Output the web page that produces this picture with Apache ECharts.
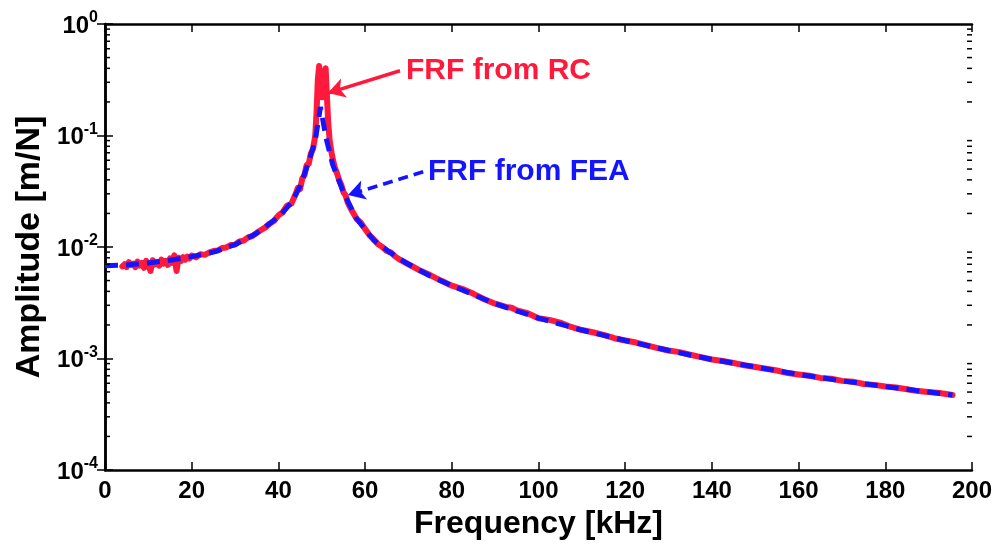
<!DOCTYPE html>
<html>
<head>
<meta charset="utf-8">
<script src="https://cdn.jsdelivr.net/npm/echarts@6/dist/echarts.min.js"></script>
<style>html,body{margin:0;padding:0;background:#fff}#c{width:1001px;height:548px}</style>
</head>
<body>
<div id="c"></div>
<script>
// FEA (dashed blue) series
const freqFEA = [0,5,10,15,20,25,30,35,40,43,45,47,48.5,49.7,51,52.5,55,58,62,66,70,75,80,90,100,110,120,130,140,150,160,170,180,190,195.5];
const ampFEA  = [6.8e-3,6.9e-3,7.2e-3,7.6e-3,8.2e-3,9.0e-3,1.05e-2,1.33e-2,1.85e-2,2.5e-2,3.5e-2,5.8e-2,0.09,0.18,0.095,0.055,0.031,0.018,0.0115,0.0088,0.0070,0.0055,0.0045,0.0031,0.0023,0.0018,0.00145,0.00118,0.00098,0.00084,0.00072,0.00063,0.00056,0.0005,0.00047];

// RC (solid red) series
const freqRC = [4,4.5,5,5.5,6,6.5,7,7.5,8,8.5,9,9.5,10,10.5,11,11.5,12,12.5,13,13.5,14,14.5,15,15.5,16,16.5,17,17.5,18,18.5,19,19.5,20,21,22,23,24,25,26,27,28,29,30,31,32,33,34,35,36,37,38,39,40,41,42,43,44,44.5,45,45.5,46,46.5,47,47.5,48,48.5,48.8,49.1,49.4,49.8,50.1,50.5,50.9,51.2,51.5,51.8,52.2,52.6,53,53.5,54,54.5,55,55.5,56,57,58,59,60,61,62,63,64,65,66,67,68,70,72.5,75,77.5,80,82.5,85,87.5,90,92.5,93.8,95,97.5,100,102.5,105,107.5,110,112.5,115,117.5,120,122.5,125,127.5,130,132.5,135,137.5,140,142.5,145,147.5,150,152.5,155,157.5,160,162.5,165,167.5,170,172.5,175,177.5,180,182.5,185,187.5,190,192.5,195.5];
const ampRC  = [6.7e-3,7.0e-3,6.6e-3,7.3e-3,6.9e-3,7.1e-3,6.6e-3,7.4e-3,6.8e-3,7.2e-3,6.5e-3,7.5e-3,6.9e-3,6.1e-3,7.6e-3,7.0e-3,7.3e-3,6.8e-3,7.7e-3,7.1e-3,7.5e-3,6.9e-3,7.9e-3,7.2e-3,8.4e-3,6.1e-3,8.0e-3,7.5e-3,8.1e-3,7.7e-3,8.2e-3,7.9e-3,8.4e-3,8.1e-3,8.6e-3,8.5e-3,8.9e-3,9.2e-3,9.3e-3,9.8e-3,9.9e-3,1.04e-2,1.05e-2,1.12e-2,1.14e-2,1.22e-2,1.25e-2,1.34e-2,1.42e-2,1.50e-2,1.62e-2,1.72e-2,1.92e-2,2.05e-2,2.35e-2,2.45e-2,3.0e-2,3.4e-2,3.3e-2,4.1e-2,4.4e-2,5.4e-2,5.6e-2,6.9e-2,7.6e-2,0.10,0.16,0.32,0.42,0.30,0.22,0.36,0.40,0.22,0.13,0.092,0.072,0.060,0.052,0.046,0.040,0.036,0.031,0.029,0.025,0.021,0.018,0.0165,0.0145,0.0128,0.0117,0.0106,0.0100,0.0092,0.0089,0.0082,0.0077,0.0070,0.0062,0.0056,0.0050,0.0045,0.0042,0.0038,0.0034,0.0031,0.0029,0.00285,0.0027,0.00255,0.0023,0.00222,0.0021,0.00192,0.0018,0.00172,0.00163,0.00152,0.00145,0.00139,0.00131,0.00124,0.00118,0.00114,0.00108,0.00103,0.00098,0.00095,0.00091,0.00087,0.00084,0.00081,0.00078,0.00074,0.00072,0.00070,0.00067,0.00066,0.00063,0.00062,0.00059,0.00058,0.00056,0.00055,0.00053,0.00051,0.0005,0.00049,0.00047];

// axis settings
const xMin = 0, xMax = 200, xStep = 20;
const yDecades = [-4,-3,-2,-1,0];
const minorMults = [2,3,4,5,6,7,8,9];

// annotation arrows (data coords: [kHz, amplitude])
const arrowRC  = [[68.05, 0.381], [51.4, 0.24]];
const arrowFEA = [[73.4, 0.0473], [56.05, 0.0292]];
const labelRC = 'FRF from RC';
const labelFEA = 'FRF from FEA';

const RED = '#ff1a3c';
const BLUE = '#1414ff';
const FONT = "'Liberation Sans', Arial, sans-serif";

// minor tick values on both the left (x=xMin) and right (x=xMax) frame edges
const minorTickVals = [];
yDecades.slice(0, -1).forEach(d => minorMults.forEach(m => {
  minorTickVals.push([xMin, m * Math.pow(10, d)]);
  minorTickVals.push([xMax, m * Math.pow(10, d)]);
}));

const zip = (a, b) => a.map((v, i) => [v, b[i]]);

const chart = echarts.init(document.getElementById('c'));
const axisLineStyle = { lineStyle: { color: '#000', width: 2.5 } };
const tickStyle = { inside: true, length: 8, lineStyle: { color: '#000', width: 1.5 } };
const opt = {
  animation: false,
  grid: { left: 105, right: 29, top: 24, bottom: 78 },
  xAxis: [{
    type: 'value', min: xMin, max: xMax, interval: xStep, position: 'bottom',
    axisLine: axisLineStyle, axisTick: tickStyle,
    axisLabel: { color: '#000', fontSize: 24, fontWeight: 'bold', fontFamily: FONT, margin: 9 },
    splitLine: { show: false },
    name: 'Frequency [kHz]', nameLocation: 'middle', nameGap: 37,
    nameTextStyle: { color: '#000', fontSize: 32, fontWeight: 'bold', fontFamily: FONT }
  }, {
    type: 'value', min: xMin, max: xMax, interval: xStep, position: 'top',
    axisLine: axisLineStyle, axisTick: tickStyle,
    axisLabel: { show: false }, splitLine: { show: false }
  }],
  yAxis: [{
    type: 'log', logBase: 10, min: 1e-4, max: 1, interval: 1, position: 'left',
    axisLine: axisLineStyle, axisTick: tickStyle,
    axisLabel: {
      color: '#000', fontFamily: FONT, margin: 7,
      formatter: v => '{b|10}{e|' + Math.round(Math.log10(v)) + '}',
      rich: {
        b: { fontSize: 24, fontWeight: 'bold', fontFamily: FONT, color: '#000', verticalAlign: 'bottom' },
        e: { fontSize: 16, fontWeight: 'bold', fontFamily: FONT, color: '#000', verticalAlign: 'bottom', padding: [0, 0, 12, 0] }
      }
    },
    splitLine: { show: false },
    name: 'Amplitude [m/N]', nameLocation: 'middle', nameGap: 58,
    nameTextStyle: { color: '#000', fontSize: 34, fontWeight: 'bold', fontFamily: FONT }
  }, {
    type: 'log', logBase: 10, min: 1e-4, max: 1, interval: 1, position: 'right',
    axisLine: axisLineStyle, axisTick: tickStyle,
    axisLabel: { show: false }, splitLine: { show: false }
  }],
  graphic: [
    { type: 'text', x: 406, y: 71, silent: true,
      style: { text: labelRC, fill: RED, font: 'bold 30px ' + FONT, verticalAlign: 'middle', align: 'left' } },
    { type: 'text', x: 428, y: 172, silent: true,
      style: { text: labelFEA, fill: BLUE, font: 'bold 30px ' + FONT, verticalAlign: 'middle', align: 'left' } }
  ],
  series: [
    {
      type: 'custom', xAxisIndex: 0, yAxisIndex: 0, silent: true, clip: false, z: 10,
      data: minorTickVals,
      renderItem: (params, api) => {
        const p = api.coord([api.value(0), api.value(1)]);
        const dir = api.value(0) === xMin ? 1 : -1;
        return { type: 'line',
          shape: { x1: p[0], y1: p[1], x2: p[0] + dir * 5, y2: p[1] },
          style: { stroke: '#000', lineWidth: 1.5 } };
      }
    },
    {
      name: 'RC', type: 'line', data: zip(freqRC, ampRC), showSymbol: false, symbol: 'none',
      lineStyle: { color: RED, width: 6, join: 'round', cap: 'round' },
      markLine: {
        silent: true, symbol: ['none', 'arrow'], symbolSize: [15, 17],
        label: { show: false },
        lineStyle: { color: RED, width: 3.5, type: 'solid' },
        data: [[{ coord: arrowRC[0] }, { coord: arrowRC[1] }]]
      }
    },
    {
      name: 'FEA', type: 'line', data: zip(freqFEA, ampFEA), showSymbol: false, symbol: 'none',
      lineStyle: { color: BLUE, width: 5, type: [13, 8] },
      markLine: {
        silent: true, symbol: ['none', 'arrow'], symbolSize: [15, 17],
        label: { show: false },
        lineStyle: { color: BLUE, width: 3.5, type: [10, 6] },
        data: [[{ coord: arrowFEA[0] }, { coord: arrowFEA[1] }]]
      }
    }
  ]
};
chart.setOption(opt);
</script>
</body>
</html>
